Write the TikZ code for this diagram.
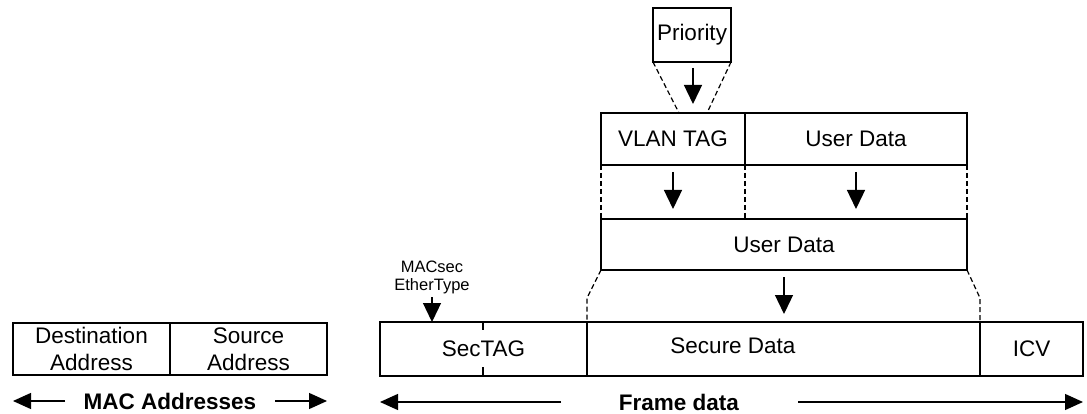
\documentclass[tikz,border=0pt]{standalone}
\usepackage{fontspec}
\setmainfont{Liberation Sans}
\usetikzlibrary{arrows.meta}
\tikzset{
  x=1pt,y=-1pt,
  box/.style={draw, line width=1.2pt, inner sep=0pt, outer sep=0pt, align=center,
    font=\fontsize{22.5}{27}\selectfont},
  txt/.style={inner sep=0pt, font=\fontsize{22.5}{27}\selectfont},
  dsh/.style={line width=1.2pt, dash pattern=on 5pt off 3pt},
  arr/.style={line width=1.3pt, -{Triangle[length=19pt,width=18pt]}},
  harr/.style={line width=1.3pt, -{Triangle[length=18pt,width=16pt]}},
  tick/.style={line width=1.2pt},
  lbl/.style={inner sep=0pt, font=\fontsize{22.5}{27}\selectfont\bfseries},
  small/.style={inner sep=0pt, align=center, font=\fontsize{16.5}{18}\selectfont},
}
\begin{document}
\begin{tikzpicture}
\useasboundingbox (0,0) rectangle (1087,414);
% top structure
\node[box, minimum width=78pt, minimum height=54pt] (prio) at (692,35) {Priority};
\node[box, minimum width=144pt, minimum height=52pt] (vlan) at (673,139) {VLAN TAG};
\node[box, minimum width=222pt, minimum height=52pt] (ud1) at (856,139) {User Data};
\node[box, minimum width=366pt, minimum height=51pt] (ud2) at (784,244.5) {User Data};
% frame row
\node[box, minimum width=207pt, minimum height=54pt] (sectag) at (483.5,349) {SecTAG};
\node[box, minimum width=393pt, minimum height=54pt] (secure) at (783.5,349) {};
\node[txt] (securetxt) at (733,346) {Secure Data};
\node[box, minimum width=103pt, minimum height=54pt] (icv) at (1031.5,349) {ICV};
% MAC addresses
\node[box, minimum width=157pt, minimum height=52pt] (dest) at (91.5,349) {Destination\\Address};
\node[box, minimum width=157pt, minimum height=52pt] (src) at (248.5,349) {Source\\Address};
% coordinates
\coordinate (pL) at (679,113);
\coordinate (pR) at (707,113);
\coordinate (bL) at (587,298);
\coordinate (bR) at (980,298);
\coordinate (a1s) at (693,68);  \coordinate (a1e) at (693,104);
\coordinate (a2s) at (673,172); \coordinate (a2e) at (673,209);
\coordinate (a3s) at (856,172); \coordinate (a3e) at (856,209);
\coordinate (a4s) at (784,277); \coordinate (a4e) at (784,314);
\coordinate (tkT) at (483,330); \coordinate (tkB) at (483,367);
% dashed lines
\draw[dsh] (prio.south west) -- (pL);
\draw[dsh] (prio.south east) -- (pR);
\draw[dsh] (vlan.south west) -- (ud2.north west);
\draw[dsh] (vlan.south east) -- (vlan.south east |- ud2.north);
\draw[dsh] (ud1.south east) -- (ud2.north east);
\draw[dsh] (ud2.south west) -- (bL) -- (secure.north west);
\draw[dsh] (ud2.south east) -- (bR) -- (secure.north east);
% arrows
\draw[arr] (a1s) -- (a1e);
\draw[arr] (a2s) -- (a2e);
\draw[arr] (a3s) -- (a3e);
\draw[arr] (a4s) -- (a4e);
% MACsec EtherType
\node[small] (eth) at (432,277) {MACsec\\EtherType};
\coordinate (ethA) at (432,297);
\draw[arr] (ethA) -- (ethA |- sectag.north);
% SecTAG ticks
\draw[tick] (tkT |- sectag.north) -- (tkT);
\draw[tick] (tkB) -- (tkB |- sectag.south);
% bottom labels
\node[lbl] (mac) at (170,401) {MAC Addresses};
\coordinate (m1) at (65,401); \coordinate (m2) at (275,401);
\draw[harr] (m1) -- (m1 -| dest.west);
\draw[harr] (m2) -- (m2 -| src.east);
\node[lbl] (fd) at (679,402) {Frame data};
\coordinate (f1) at (561,402); \coordinate (f2) at (798,402);
\draw[harr] (f1) -- (f1 -| sectag.west);
\draw[harr] (f2) -- (f2 -| icv.east);
\end{tikzpicture}
\end{document}
